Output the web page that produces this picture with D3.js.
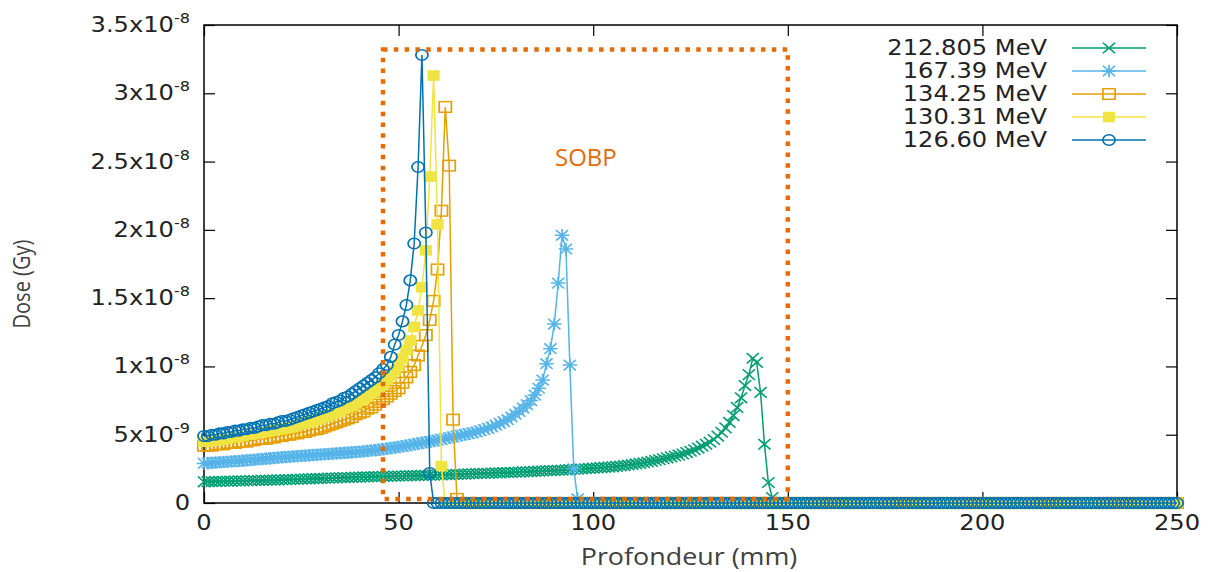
<!DOCTYPE html>
<html>
<head>
<meta charset="utf-8">
<script src="https://cdn.jsdelivr.net/npm/d3@7"></script>
<style>
  html, body { margin: 0; padding: 0; background: #fff; }
  svg { display: block; }
</style>
</head>
<body>
<div id="chart"></div>
<script>
// Dose en nGy (1e-9 Gy), un point par mm de profondeur, de 0 a 250 mm
const depthStep = 1;

const energies = ["212.805 MeV", "167.39 MeV", "134.25 MeV", "130.31 MeV", "126.60 MeV"];
const colors = ["#009e73", "#56b4e9", "#e69f00", "#f0e442", "#0072b2"];
const markers = ["cross", "star", "square", "filledSquare", "circle"];

const dose212 = [
  1.55,1.56,1.56,1.57,1.58,1.59,1.59,1.60,1.61,1.62,
  1.62,1.63,1.64,1.65,1.65,1.66,1.67,1.68,1.68,1.69,
  1.70,1.71,1.72,1.73,1.74,1.75,1.76,1.77,1.78,1.79,
  1.80,1.81,1.82,1.83,1.84,1.85,1.86,1.87,1.88,1.89,
  1.90,1.91,1.91,1.92,1.93,1.94,1.95,1.95,1.96,1.97,
  1.98,1.98,1.99,2.00,2.00,2.01,2.02,2.03,2.03,2.04,
  2.05,2.06,2.07,2.08,2.09,2.10,2.11,2.12,2.13,2.14,
  2.15,2.16,2.17,2.18,2.19,2.20,2.21,2.22,2.23,2.24,
  2.25,2.26,2.28,2.29,2.30,2.32,2.33,2.34,2.36,2.37,
  2.38,2.40,2.41,2.42,2.44,2.45,2.47,2.49,2.51,2.53,
  2.55,2.57,2.59,2.61,2.63,2.65,2.68,2.71,2.74,2.78,
  2.82,2.86,2.90,2.95,3.00,3.05,3.11,3.17,3.24,3.31,
  3.38,3.44,3.50,3.59,3.69,3.79,3.90,4.02,4.16,4.30,
  4.45,4.65,4.90,5.18,5.50,5.90,6.40,7.00,7.70,8.60,
  9.40,10.60,10.30,8.10,4.30,1.50,0.40,
  0,0,0,0,0,0,0,0,0,0,0,0,0,0,0,0,0,0,0,0,
  0,0,0,0,0,0,0,0,0,0,0,0,0,0,0,0,0,0,0,0,
  0,0,0,0,0,0,0,0,0,0,0,0,0,0,0,0,0,0,0,0,
  0,0,0,0,0,0,0,0,0,0,0,0,0,0,0,0,0,0,0,0,
  0,0,0,0,0,0,0,0,0,0,0,0,0,0,0,0,0,0,0,0,
  0,0,0,0
];

const dose167 = [
  2.90,2.92,2.94,2.96,2.98,3.00,3.02,3.04,3.06,3.08,
  3.10,3.12,3.15,3.17,3.20,3.22,3.25,3.27,3.30,3.32,
  3.35,3.37,3.39,3.41,3.43,3.45,3.47,3.49,3.51,3.53,
  3.55,3.57,3.59,3.61,3.63,3.65,3.67,3.69,3.71,3.73,
  3.75,3.78,3.81,3.84,3.87,3.90,3.94,3.98,4.02,4.06,
  4.10,4.15,4.20,4.25,4.30,4.35,4.40,4.45,4.50,4.55,
  4.60,4.66,4.72,4.78,4.84,4.90,4.96,5.02,5.08,5.14,
  5.20,5.29,5.38,5.47,5.57,5.70,5.83,5.96,6.10,6.30,
  6.50,6.70,6.95,7.20,7.50,7.90,8.40,9.00,10.2,11.3,
  13.1,16.1,19.6,18.6,10.1,2.5,0.3,
  0,0,0,0,0,0,0,0,0,0,0,0,0,0,0,0,0,0,0,0,
  0,0,0,0,0,0,0,0,0,0,0,0,0,0,0,0,0,0,0,0,
  0,0,0,0,0,0,0,0,0,0,0,0,0,0,0,0,0,0,0,0,
  0,0,0,0,0,0,0,0,0,0,0,0,0,0,0,0,0,0,0,0,
  0,0,0,0,0,0,0,0,0,0,0,0,0,0,0,0,0,0,0,0,
  0,0,0,0,0,0,0,0,0,0,0,0,0,0,0,0,0,0,0,0,
  0,0,0,0,0,0,0,0,0,0,0,0,0,0,0,0,0,0,0,0,
  0,0,0,0,0,0,0,0,0,0,0,0,0,0
];

const dose134 = [
  4.2,4.2,4.2,4.3,4.3,4.3,4.4,4.4,4.4,4.5,
  4.5,4.5,4.6,4.6,4.7,4.7,4.7,4.8,4.8,4.9,
  4.9,5.0,5.0,5.1,5.1,5.2,5.2,5.3,5.4,5.4,
  5.5,5.6,5.7,5.8,5.9,6.0,6.1,6.2,6.3,6.5,
  6.6,6.7,6.9,7.0,7.2,7.4,7.6,7.8,8.0,8.2,
  8.4,8.8,9.2,9.6,10.1,10.8,11.5,12.3,13.4,14.8,
  17.1,21.4,29.0,24.7,6.1,0.3,
  0,0,0,0,0,0,0,0,0,0,0,0,0,0,0,0,0,0,0,0,
  0,0,0,0,0,0,0,0,0,0,0,0,0,0,0,0,0,0,0,0,
  0,0,0,0,0,0,0,0,0,0,0,0,0,0,0,0,0,0,0,0,
  0,0,0,0,0,0,0,0,0,0,0,0,0,0,0,0,0,0,0,0,
  0,0,0,0,0,0,0,0,0,0,0,0,0,0,0,0,0,0,0,0,
  0,0,0,0,0,0,0,0,0,0,0,0,0,0,0,0,0,0,0,0,
  0,0,0,0,0,0,0,0,0,0,0,0,0,0,0,0,0,0,0,0,
  0,0,0,0,0,0,0,0,0,0,0,0,0,0,0,0,0,0,0,0,
  0,0,0,0,0,0,0,0,0,0,0,0,0,0,0,0,0,0,0,0,
  0,0,0,0,0
];

const dose130 = [
  4.5,4.5,4.6,4.6,4.6,4.7,4.7,4.8,4.8,4.9,
  4.9,5.0,5.0,5.1,5.1,5.2,5.2,5.3,5.3,5.4,
  5.4,5.5,5.5,5.6,5.7,5.8,5.9,5.9,6.0,6.1,
  6.2,6.3,6.4,6.5,6.6,6.7,6.9,7.0,7.1,7.3,
  7.5,7.6,7.8,8.0,8.2,8.5,8.7,9.0,9.3,9.7,
  10.1,10.6,11.2,11.9,12.9,14.1,15.8,18.5,23.9,31.3,
  20.4,2.7,
  0,0,0,0,0,0,0,0,0,0,0,0,0,0,0,0,0,0,0,0,
  0,0,0,0,0,0,0,0,0,0,0,0,0,0,0,0,0,0,0,0,
  0,0,0,0,0,0,0,0,0,0,0,0,0,0,0,0,0,0,0,0,
  0,0,0,0,0,0,0,0,0,0,0,0,0,0,0,0,0,0,0,0,
  0,0,0,0,0,0,0,0,0,0,0,0,0,0,0,0,0,0,0,0,
  0,0,0,0,0,0,0,0,0,0,0,0,0,0,0,0,0,0,0,0,
  0,0,0,0,0,0,0,0,0,0,0,0,0,0,0,0,0,0,0,0,
  0,0,0,0,0,0,0,0,0,0,0,0,0,0,0,0,0,0,0,0,
  0,0,0,0,0,0,0,0,0,0,0,0,0,0,0,0,0,0,0,0,
  0,0,0,0,0,0,0,0,0
];

const dose126 = [
  4.9,4.9,5.0,5.0,5.1,5.1,5.2,5.2,5.3,5.3,
  5.4,5.4,5.5,5.5,5.6,5.7,5.7,5.8,5.8,5.9,
  6.0,6.0,6.1,6.2,6.3,6.4,6.5,6.6,6.7,6.8,
  6.9,7.0,7.1,7.3,7.4,7.5,7.7,7.8,8.0,8.2,
  8.4,8.6,8.8,9.0,9.2,9.5,9.8,10.1,10.7,11.6,
  12.3,13.3,14.5,16.3,19.0,24.6,32.8,19.8,2.2,
  0,0,0,0,0,0,0,0,0,0,0,0,0,0,0,0,0,0,0,0,
  0,0,0,0,0,0,0,0,0,0,0,0,0,0,0,0,0,0,0,0,
  0,0,0,0,0,0,0,0,0,0,0,0,0,0,0,0,0,0,0,0,
  0,0,0,0,0,0,0,0,0,0,0,0,0,0,0,0,0,0,0,0,
  0,0,0,0,0,0,0,0,0,0,0,0,0,0,0,0,0,0,0,0,
  0,0,0,0,0,0,0,0,0,0,0,0,0,0,0,0,0,0,0,0,
  0,0,0,0,0,0,0,0,0,0,0,0,0,0,0,0,0,0,0,0,
  0,0,0,0,0,0,0,0,0,0,0,0,0,0,0,0,0,0,0,0,
  0,0,0,0,0,0,0,0,0,0,0,0,0,0,0,0,0,0,0,0,
  0,0,0,0,0,0,0,0,0,0,0,0
];

const seriesDose = [dose212, dose167, dose134, dose130, dose126];

const xTicks = [0, 50, 100, 150, 200, 250];
const yTicks = [0, 5, 10, 15, 20, 25, 30, 35];            // nGy
const yTickMantissa = ["0", "5", "1", "1.5", "2", "2.5", "3", "3.5"];
const yTickExponent = ["", "-9", "-8", "-8", "-8", "-8", "-8", "-8"];

// Rectangle SOBP (profondeur mm, dose nGy)
const sobpDepth = [46, 150];
const sobpDose = [0.3, 33.2];

const width = 1210, height = 572;
const margin = { top: 25, right: 33, bottom: 69, left: 204 };
const sx = 1.15; // l'image d'origine est etiree horizontalement

const svg = d3.select("#chart").append("svg")
  .attr("width", width)
  .attr("height", height);

const x = d3.scaleLinear().domain([0, 250]).range([margin.left, width - margin.right]);
const y = d3.scaleLinear().domain([0, 35]).range([height - margin.bottom, margin.top]);

// Ticks (vers l'interieur, repetes en haut et a droite)
const tick = 11;
svg.append("g").attr("transform", `translate(${margin.left},0)`)
  .call(d3.axisLeft(y).tickValues(yTicks).tickSizeInner(-tick).tickSizeOuter(0).tickFormat(""));
svg.append("g").attr("transform", `translate(${width - margin.right},0)`)
  .call(d3.axisRight(y).tickValues(yTicks).tickSizeInner(-tick).tickSizeOuter(0).tickFormat(""));
svg.append("g").attr("transform", `translate(0,${height - margin.bottom})`)
  .call(d3.axisBottom(x).tickValues(xTicks).tickSizeInner(-tick).tickSizeOuter(0).tickFormat(""));
svg.append("g").attr("transform", `translate(0,${margin.top})`)
  .call(d3.axisTop(x).tickValues(xTicks).tickSizeInner(-tick).tickSizeOuter(0).tickFormat(""));
svg.selectAll(".domain").remove();
svg.selectAll(".tick line").attr("stroke", "#000").attr("stroke-width", 1.2);

// Cadre
svg.append("rect")
  .attr("x", x(0)).attr("y", y(35))
  .attr("width", x(250) - x(0)).attr("height", y(0) - y(35))
  .attr("fill", "none").attr("stroke", "#000").attr("stroke-width", 1.5);

// Etiquettes Y avec exposant
const yLab = svg.selectAll("text.ylab")
  .data(yTicks)
  .join("text")
  .attr("class", "ylab")
  .attr("transform", d => `translate(${margin.left - 14},${y(d) + 7}) scale(${sx},1)`)
  .attr("text-anchor", "end")
  .attr("font-family", "DejaVu Sans")
  .attr("font-size", 21)
  .attr("fill", "#222");
yLab.each(function (d, i) {
  const t = d3.select(this);
  if (yTickExponent[i] === "") {
    t.text(yTickMantissa[i]);
  } else {
    t.append("tspan").text(yTickMantissa[i] + "x10");
    t.append("tspan").attr("dy", -9).attr("font-size", 14).text(yTickExponent[i]);
  }
});

// Etiquettes X
svg.selectAll("text.xlab")
  .data(xTicks)
  .join("text")
  .attr("class", "xlab")
  .attr("transform", d => `translate(${x(d)},${height - margin.bottom + 27}) scale(${sx},1)`)
  .attr("text-anchor", "middle")
  .attr("font-family", "DejaVu Sans")
  .attr("font-size", 21)
  .attr("fill", "#222")
  .text(d => d);

// Titres des axes
svg.append("text")
  .attr("transform", `translate(30,284) rotate(-90) scale(1,1.15)`)
  .attr("text-anchor", "middle")
  .attr("font-family", "Open Sans")
  .attr("font-size", 20)
  .attr("fill", "#404040")
  .text("Dose (Gy)");
svg.append("text")
  .attr("transform", `translate(689,565) scale(1.12,1)`)
  .attr("text-anchor", "middle")
  .attr("font-family", "Open Sans")
  .attr("font-size", 24)
  .attr("fill", "#404040")
  .text("Profondeur (mm)");

// Marqueurs
function drawMarker(g, type, color) {
  const s = 5.3;
  if (type === "cross") {
    g.append("path").attr("d", `M${-s},${-s}L${s},${s}M${-s},${s}L${s},${-s}`)
      .attr("stroke", color).attr("stroke-width", 1.5).attr("fill", "none");
  } else if (type === "star") {
    g.append("path").attr("d", `M${-s},${-s}L${s},${s}M${-s},${s}L${s},${-s}M${-s - 1},0L${s + 1},0M0,${-s - 1}L0,${s + 1}`)
      .attr("stroke", color).attr("stroke-width", 1.5).attr("fill", "none");
  } else if (type === "square") {
    g.append("rect").attr("x", -s).attr("y", -s).attr("width", 2 * s).attr("height", 2 * s)
      .attr("stroke", color).attr("stroke-width", 1.5).attr("fill", "none");
  } else if (type === "filledSquare") {
    g.append("rect").attr("x", -s).attr("y", -s).attr("width", 2 * s).attr("height", 2 * s)
      .attr("fill", color);
  } else {
    g.append("circle").attr("r", s)
      .attr("stroke", color).attr("stroke-width", 1.5).attr("fill", "none");
  }
}

const line = d3.line()
  .x((d, i) => x(i * depthStep))
  .y(d => y(d));

seriesDose.forEach((values, k) => {
  const g = svg.append("g").attr("class", "series");
  g.append("path")
    .datum(values)
    .attr("d", line)
    .attr("fill", "none")
    .attr("stroke", colors[k])
    .attr("stroke-width", 1.5);
  g.selectAll("g.pt")
    .data(values)
    .join("g")
    .attr("class", "pt")
    .attr("transform", (d, i) => `translate(${x(i * depthStep)},${y(d)}) scale(${sx},1)`)
    .each(function () { drawMarker(d3.select(this), markers[k], colors[k]); });
});

// Legende
const legRowY = d3.scalePoint().domain(energies).range([48, 140]);
energies.forEach((name, k) => {
  const ly = legRowY(name);
  svg.append("text")
    .attr("transform", `translate(1047,${ly + 7}) scale(${sx},1)`)
    .attr("text-anchor", "end")
    .attr("font-family", "DejaVu Sans")
    .attr("font-size", 21)
    .attr("fill", "#222")
    .text(name);
  svg.append("line")
    .attr("x1", 1072).attr("x2", 1146).attr("y1", ly).attr("y2", ly)
    .attr("stroke", colors[k]).attr("stroke-width", 1.5);
  const mg = svg.append("g").attr("transform", `translate(1109,${ly}) scale(${sx},1)`);
  drawMarker(mg, markers[k], colors[k]);
});

// Zone SOBP
svg.append("rect")
  .attr("x", x(sobpDepth[0]))
  .attr("y", y(sobpDose[1]))
  .attr("width", x(sobpDepth[1]) - x(sobpDepth[0]))
  .attr("height", y(sobpDose[0]) - y(sobpDose[1]))
  .attr("fill", "none")
  .attr("stroke", "#e36c09")
  .attr("stroke-width", 4.5)
  .attr("stroke-dasharray", "4.5,6.3");
svg.append("text")
  .attr("x", 555).attr("y", 166)
  .attr("font-family", "Open Sans")
  .attr("font-size", 24)
  .attr("fill", "#e36c09")
  .text("SOBP");
</script>
</body>
</html>
